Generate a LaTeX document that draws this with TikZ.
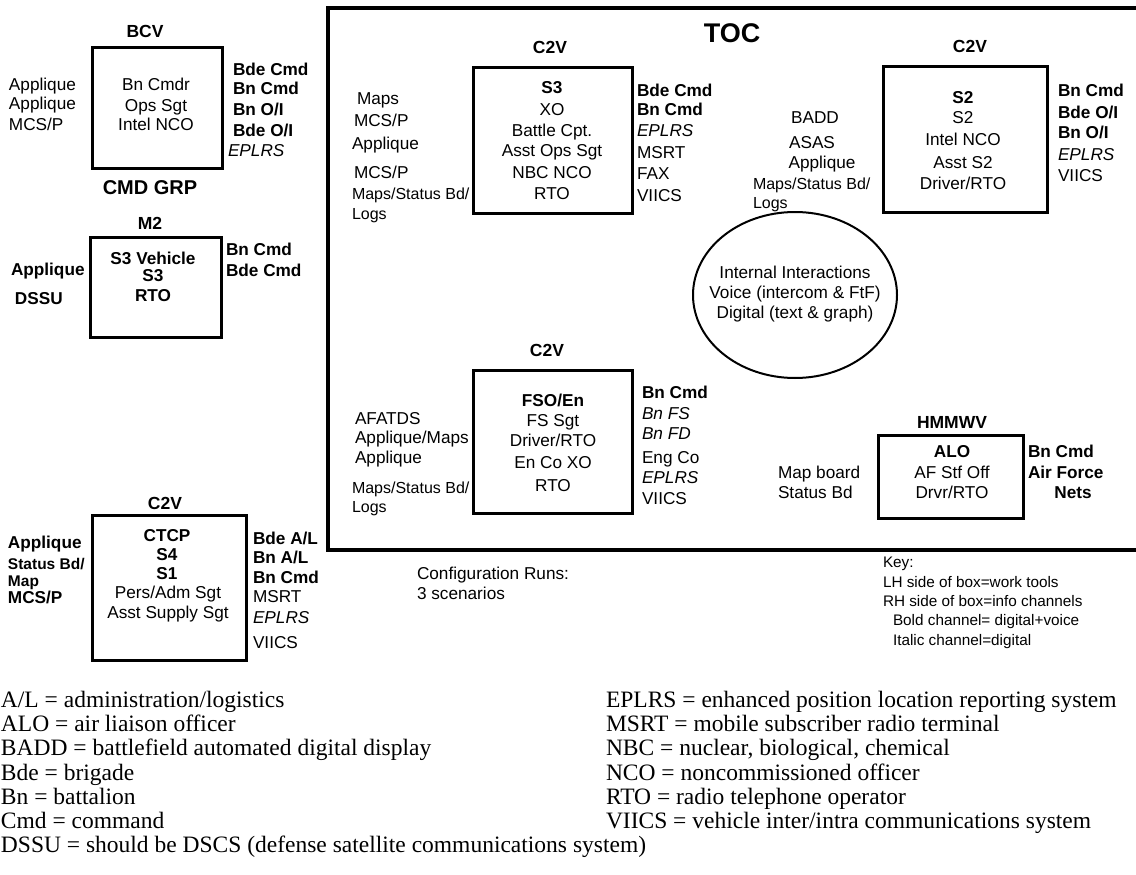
\documentclass[tikz,border=0pt]{standalone}
\usepackage{fontspec}
\setmainfont{Liberation Sans}
\newfontfamily\tmsfont{Liberation Serif}
\usetikzlibrary{shapes.geometric}
\begin{document}
\begin{tikzpicture}[x=1pt,y=-1pt,
  every node/.style={inner sep=0pt, outer sep=0pt},
  tr/.style={font=\fontsize{17.2}{20}\selectfont},
  tn/.style={font=\fontsize{16}{20}\selectfont},
  tb/.style={font=\fontsize{17.2}{20}\selectfont\bfseries},
  ti/.style={font=\fontsize{17.2}{20}\selectfont\itshape},
  ts/.style={font=\fontsize{15.5}{18}\selectfont\bfseries},
  hd/.style={font=\fontsize{17.5}{20}\selectfont\bfseries, anchor=base},
  L/.style={anchor=base west},
  C/.style={anchor=base},
  vbox/.style={draw, line width=3pt, anchor=north west},
  tk/.style={font=\fontsize{15.3}{18}\selectfont, anchor=base west},
  tl/.style={font=\tmsfont\fontsize{23.5}{24}\selectfont, anchor=base west},
]
\clip (0,0) rectangle (1136,875);
\useasboundingbox (0,0) rectangle (1136,875);

% ---------- BCV ----------
\node[hd] (bcvh) at (145,38) {BCV};
\node[vbox, minimum width=130pt, minimum height=120pt] (bcv) at (92,48) {};
\node[tr,C] (bcv1) at (156,91) {Bn Cmdr};
\node[tr,C] (bcv2) at (156,111) {Ops Sgt};
\node[tr,C] (bcv3) at (156,131) {Intel NCO};
\node[tr,L] (bcvl1) at (9,91) {Applique};
\node[tr,L] (bcvl2) at (9,110) {Applique};
\node[tr,L] (bcvl3) at (9,130) {MCS/P};
\node[tb,L] (bcvr1) at (233,76) {Bde Cmd};
\node[tb,L] (bcvr2) at (233,95) {Bn Cmd};
\node[tb,L] (bcvr3) at (233,115) {Bn O/I};
\node[tb,L] (bcvr4) at (233,136) {Bde O/I};
\node[ti,L] (bcvr5) at (228,156) {EPLRS};
\node[font=\fontsize{20}{22}\selectfont\bfseries, anchor=base] (cmdgrp) at (150,194) {CMD GRP};

% ---------- M2 ----------
\node[hd] (m2h) at (150,229) {M2};
\node[vbox, minimum width=131pt, minimum height=100pt] (m2) at (90,237) {};
\node[tb,C] (m21) at (153,264) {S3 Vehicle};
\node[tb,C] (m22) at (153,281) {S3};
\node[tb,C] (m23) at (153,301) {RTO};
\node[tb,L] (m2l1) at (11,275) {Applique};
\node[tb,L] (m2l2) at (15,304) {DSSU};
\node[tb,L] (m2r1) at (226,255) {Bn Cmd};
\node[tb,L] (m2r2) at (226,276) {Bde Cmd};

% ---------- C2V (CTCP) ----------
\node[hd] (cth) at (165,509) {C2V};
\node[vbox, minimum width=154pt, minimum height=145pt] (ct) at (92,515) {};
\node[tb,C] (ct1) at (167,541) {CTCP};
\node[tb,C] (ct2) at (167,560) {S4};
\node[tb,C] (ct3) at (167,579) {S1};
\node[tr,C] (ct4) at (168,598) {Pers/Adm Sgt};
\node[tr,C] (ct5) at (168,618) {Asst Supply Sgt};
\node[tb,L] (ctl1) at (8,548) {Applique};
\node[ts,L] (ctl2) at (8,569) {Status Bd/};
\node[ts,L] (ctl3) at (8,586) {Map};
\node[tb,L] (ctl4) at (8,603) {MCS/P};
\node[tb,L] (ctr1) at (253,544) {Bde A/L};
\node[tb,L] (ctr2) at (253,563) {Bn A/L};
\node[tb,L] (ctr3) at (253,583) {Bn Cmd};
\node[tr,L] (ctr4) at (253,602) {MSRT};
\node[ti,L] (ctr5) at (253,623) {EPLRS};
\node[tr,L] (ctr6) at (253,648) {VIICS};

% ---------- TOC ----------
\node[draw, line width=3.5pt, anchor=north west, minimum width=830pt, minimum height=542pt] (toc) at (328,8) {};
\node[font=\fontsize{27}{30}\selectfont\bfseries, anchor=base] (toch) at (732,43) {TOC};

% S3 vehicle
\node[hd] (s3h) at (550,54) {C2V};
\node[vbox, minimum width=159pt, minimum height=145pt] (s3) at (473,68) {};
\node[tb,C] (s31) at (552,94) {S3};
\node[tr,C] (s32) at (552,115) {XO};
\node[tr,C] (s33) at (552,136) {Battle Cpt.};
\node[tr,C] (s34) at (552,157) {Asst Ops Sgt};
\node[tr,C] (s35) at (552,178) {NBC NCO};
\node[tr,C] (s36) at (552,199) {RTO};
\node[tr,L] (s3l1) at (357,104) {Maps};
\node[tr,L] (s3l2) at (354,126) {MCS/P};
\node[tr,L] (s3l3) at (352,149) {Applique};
\node[tr,L] (s3l4) at (354,178) {MCS/P};
\node[tn,L] (s3l5) at (352,199) {Maps/Status Bd/};
\node[tn,L] (s3l6) at (352,219) {Logs};
\node[tb,L] (s3r1) at (637,96) {Bde Cmd};
\node[tb,L] (s3r2) at (637,116) {Bn Cmd};
\node[ti,L] (s3r3) at (637,136) {EPLRS};
\node[tr,L] (s3r4) at (637,158) {MSRT};
\node[tr,L] (s3r5) at (637,179) {FAX};
\node[tr,L] (s3r6) at (637,201) {VIICS};

% S2 vehicle
\node[hd] (s2h) at (970,53) {C2V};
\node[vbox, minimum width=164pt, minimum height=145pt] (s2) at (883,67) {};
\node[tb,C] (s21) at (963,103) {S2};
\node[tr,C] (s22) at (963,124) {S2};
\node[tr,C] (s23) at (963,146) {Intel NCO};
\node[tr,C] (s24) at (963,168) {Asst S2};
\node[tr,C] (s25) at (963,189) {Driver/RTO};
\node[tr,C] (s2l1) at (815,124) {BADD};
\node[tr,C] (s2l2) at (812,148) {ASAS};
\node[tr,C] (s2l3) at (822,168) {Applique};
\node[tn,L] (s2l4) at (753,189) {Maps/Status Bd/};
\node[tn,L] (s2l5) at (753,208) {Logs};
\node[tb,L] (s2r1) at (1058,96) {Bn Cmd};
\node[tb,L] (s2r2) at (1058,118) {Bde O/I};
\node[tb,L] (s2r3) at (1058,139) {Bn O/I};
\node[ti,L] (s2r4) at (1058,160) {EPLRS};
\node[tr,L] (s2r5) at (1058,181) {VIICS};

% internal interactions
\node[draw, ellipse, line width=2pt, minimum width=204pt, minimum height=166pt] (ell) at (795,295) {};
\node[tr,C] (ell1) at (795,278) {Internal Interactions};
\node[tr,C] (ell2) at (795,298) {Voice (intercom \& FtF)};
\node[tr,C] (ell3) at (795,318) {Digital (text \& graph)};

% FSO vehicle
\node[hd] (fsh) at (547,356) {C2V};
\node[vbox, minimum width=159pt, minimum height=143pt] (fs) at (473,370) {};
\node[tb,C] (fs1) at (553,406) {FSO/En};
\node[tr,C] (fs2) at (553,426) {FS Sgt};
\node[tr,C] (fs3) at (553,446) {Driver/RTO};
\node[tr,C] (fs4) at (553,468) {En Co XO};
\node[tr,C] (fs5) at (553,491) {RTO};
\node[tr,L] (fsl1) at (355,424) {AFATDS};
\node[tr,L] (fsl2) at (355,443) {Applique/Maps};
\node[tr,L] (fsl3) at (355,463) {Applique};
\node[tn,L] (fsl4) at (352,493) {Maps/Status Bd/};
\node[tn,L] (fsl5) at (352,512) {Logs};
\node[tb,L] (fsr1) at (642,398) {Bn Cmd};
\node[ti,L] (fsr2) at (642,419) {Bn FS};
\node[ti,L] (fsr3) at (642,439) {Bn FD};
\node[tr,L] (fsr4) at (642,463) {Eng Co};
\node[ti,L] (fsr5) at (642,483) {EPLRS};
\node[tr,L] (fsr6) at (642,504) {VIICS};

% HMMWV
\node[hd] (hmh) at (952,428) {HMMWV};
\node[vbox, minimum width=145pt, minimum height=83pt] (hm) at (878,435) {};
\node[tb,C] (hm1) at (952,457) {ALO};
\node[tr,C] (hm2) at (952,478) {AF Stf Off};
\node[tr,C] (hm3) at (952,498) {Drvr/RTO};
\node[tr,L] (hml1) at (778,478) {Map board};
\node[tr,L] (hml2) at (778,498) {Status Bd};
\node[tb,L] (hmr1) at (1028,457) {Bn Cmd};
\node[tb,L] (hmr2) at (1028,478) {Air Force};
\node[tb,C] (hmr3) at (1073,498) {Nets};

% configuration runs
\node[tr,L] (cfg1) at (417,579) {Configuration Runs:};
\node[tr,L] (cfg2) at (417,599) {3 scenarios};

% key
\node[tk] (k1) at (883,567) {Key:};
\node[tk] (k2) at (883,587) {LH side of box=work tools};
\node[tk] (k3) at (883,606) {RH side of box=info channels};
\node[tk] (k4) at (893,625) {Bold channel= digital+voice};
\node[tk] (k5) at (893,645) {Italic channel=digital};

% legend
\node[tl] (g1) at (1,707) {A/L = administration/logistics};
\node[tl] (g2) at (1,731) {ALO = air liaison officer};
\node[tl] (g3) at (1,755) {BADD = battlefield automated digital display};
\node[tl] (g4) at (1,780) {Bde = brigade};
\node[tl] (g5) at (1,804) {Bn = battalion};
\node[tl] (g6) at (1,828) {Cmd = command};
\node[tl] (g7) at (1,852) {DSSU = should be DSCS (defense satellite communications system)};
\node[tl] (h1) at (606,707) {EPLRS = enhanced position location reporting system};
\node[tl] (h2) at (606,731) {MSRT = mobile subscriber radio terminal};
\node[tl] (h3) at (606,755) {NBC = nuclear, biological, chemical};
\node[tl] (h4) at (606,780) {NCO = noncommissioned officer};
\node[tl] (h5) at (606,804) {RTO = radio telephone operator};
\node[tl] (h6) at (606,828) {VIICS = vehicle inter/intra communications system};
\end{tikzpicture}
\end{document}
